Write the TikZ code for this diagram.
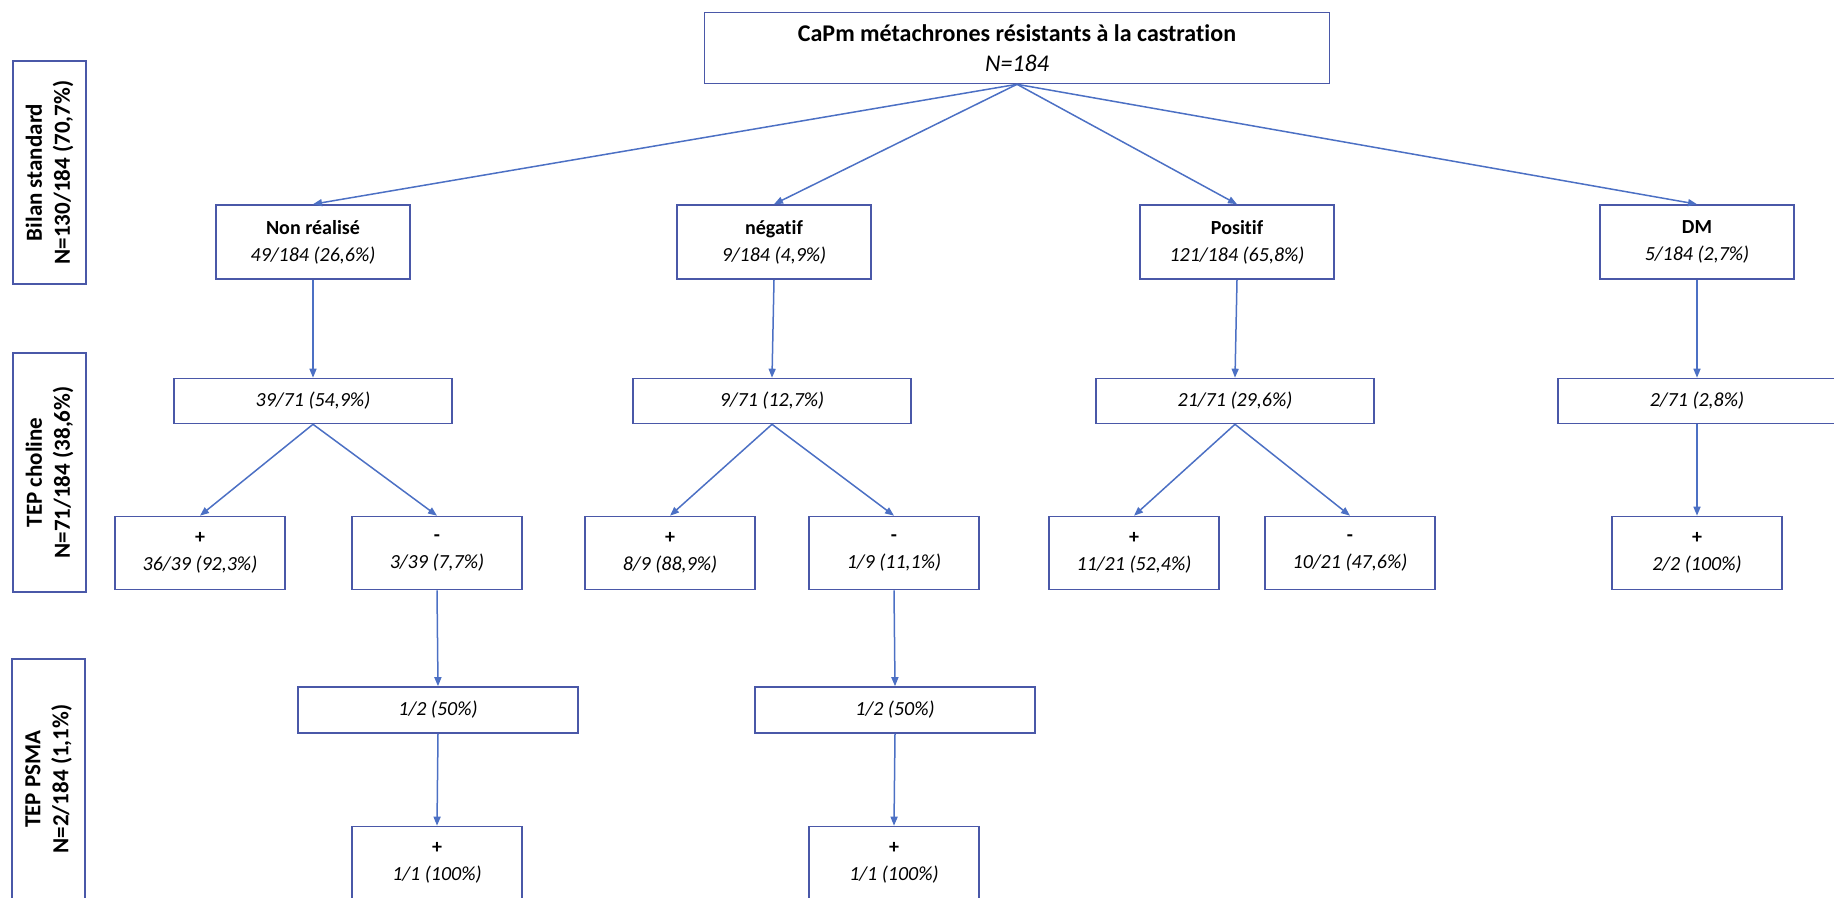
\documentclass[tikz,border=0pt]{standalone}
\usepackage{fontspec}
\setmainfont{Carlito}[Ligatures=NoCommon]
\usepackage{tikz}
\usetikzlibrary{arrows.meta, positioning}
\definecolor{mainBlue}{RGB}{76,112,196}
\definecolor{boxBlue}{RGB}{74,88,168}

\begin{document}
\begin{tikzpicture}[x=1pt, y=-1pt, >={Triangle[length=9pt, width=7pt]},
    box/.style={draw=boxBlue, line width=1.6pt, fill=white, align=center, inner sep=2pt, font=\fontsize{20}{27}\selectfont},
    lvlone/.style={box, minimum width=194pt, minimum height=74pt},
    lvltwo/.style={box, minimum width=278pt, minimum height=45pt},
    lvlthree/.style={box, minimum width=170pt, minimum height=73pt},
    sidebox/.style={box, rotate=90, minimum height=73pt, font=\bfseries\fontsize{23}{28}\selectfont},
    arr/.style={->, mainBlue, line width=1.5pt}]
    \useasboundingbox (0,0) rectangle (1834,897);

    \node[box, minimum width=625pt, minimum height=71pt, font=\fontsize{24}{30}\selectfont] (top) at (1017,48)
        {\textbf{CaPm métachrones résistants à la castration}\\\textit{N=184}};

    \node[lvlone] (nr)  at (313,242)  {\textbf{Non réalisé}\\\textit{49/184 (26,6\%)}};
    \node[lvlone] (neg) at (774,242)  {\textbf{négatif}\\\textit{9/184 (4,9\%)}};
    \node[lvlone] (pos) at (1237,242) {\textbf{Positif}\\\textit{121/184 (65,8\%)}};
    \node[lvlone] (dm)  at (1697,242) {\textbf{DM}\\\textit{5/184 (2,7\%)}};

    \node[lvltwo] (chNr)  at (313,401)  {\textit{39/71 (54,9\%)}};
    \node[lvltwo] (chNeg) at (772,401)  {\textit{9/71 (12,7\%)}};
    \node[lvltwo] (chPos) at (1235,401) {\textit{21/71 (29,6\%)}};
    \node[lvltwo] (chDm)  at (1697,401) {\textit{2/71 (2,8\%)}};

    \node[lvlthree] (nrPlus)   at (200,553)  {\textbf{+}\\\textit{36/39 (92,3\%)}};
    \node[lvlthree] (nrMinus)  at (437,553)  {\textbf{-}\\\textit{3/39 (7,7\%)}};
    \node[lvlthree] (negPlus)  at (670,553)  {\textbf{+}\\\textit{8/9 (88,9\%)}};
    \node[lvlthree] (negMinus) at (894,553)  {\textbf{-}\\\textit{1/9 (11,1\%)}};
    \node[lvlthree] (posPlus)  at (1134,553) {\textbf{+}\\\textit{11/21 (52,4\%)}};
    \node[lvlthree] (posMinus) at (1350,553) {\textbf{-}\\\textit{10/21 (47,6\%)}};
    \node[lvlthree] (dmPlus)   at (1697,553) {\textbf{+}\\\textit{2/2 (100\%)}};

    \node[lvltwo, minimum width=280pt, minimum height=46pt] (psNr)  at (438,710) {\textit{1/2 (50\%)}};
    \node[lvltwo, minimum width=280pt, minimum height=46pt] (psNeg) at (895,710) {\textit{1/2 (50\%)}};

    \node[lvlthree] (psNrPlus)  at (437,863) {\textbf{+}\\\textit{1/1 (100\%)}};
    \node[lvlthree] (psNegPlus) at (894,863) {\textbf{+}\\\textit{1/1 (100\%)}};

    \node[sidebox, minimum width=223pt] (bilan) at (49.5,172.5) {Bilan standard\\N=130/184 (70,7\%)};
    \node[sidebox, minimum width=239pt] (choline) at (49.5,472.5) {TEP choline\\N=71/184 (38,6\%)};
    \node[sidebox, minimum width=240pt] (psma) at (48.5,779) {TEP PSMA\\N=2/184 (1,1\%)};

    \draw[arr] (top.south) -- (nr.north);
    \draw[arr] (top.south) -- (neg.north);
    \draw[arr] (top.south) -- (pos.north);
    \draw[arr] (top.south) -- (dm.north);

    \draw[arr] (nr.south) -- (chNr.north);
    \draw[arr] (neg.south) -- (chNeg.north);
    \draw[arr] (pos.south) -- (chPos.north);
    \draw[arr] (dm.south) -- (chDm.north);

    \draw[arr] (chNr.south) -- (nrPlus.north);
    \draw[arr] (chNr.south) -- (nrMinus.north);
    \draw[arr] (chNeg.south) -- (negPlus.north);
    \draw[arr] (chNeg.south) -- (negMinus.north);
    \draw[arr] (chPos.south) -- (posPlus.north);
    \draw[arr] (chPos.south) -- (posMinus.north);
    \draw[arr] (chDm.south) -- (dmPlus.north);

    \draw[arr] (nrMinus.south) -- (psNr.north);
    \draw[arr] (negMinus.south) -- (psNeg.north);
    \draw[arr] (psNr.south) -- (psNrPlus.north);
    \draw[arr] (psNeg.south) -- (psNegPlus.north);
\end{tikzpicture}
\end{document}
